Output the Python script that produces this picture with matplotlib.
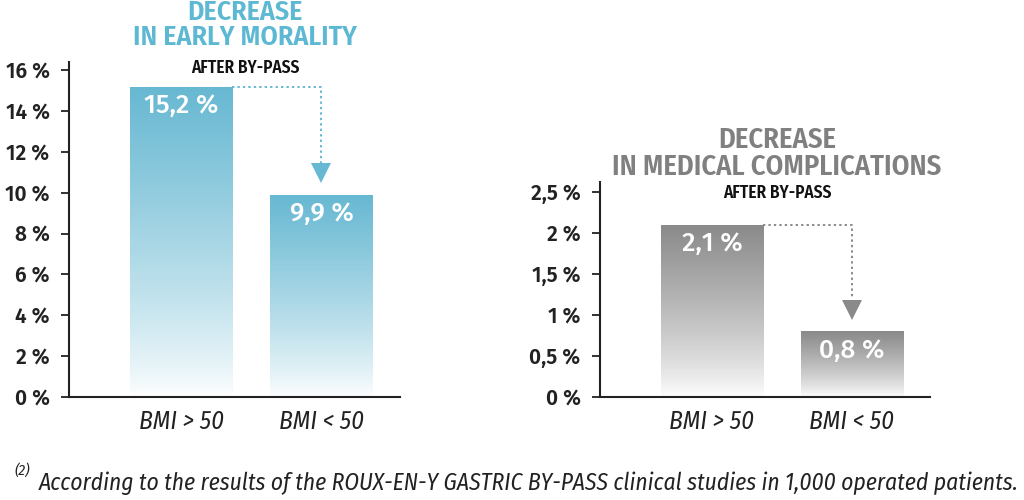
import matplotlib
matplotlib.use("Agg")
import matplotlib.pyplot as plt
import numpy as np
from matplotlib.colors import LinearSegmentedColormap

# data
categories = ["BMI > 50", "BMI < 50"]
mortality = [15.2, 9.9]
mortality_labels = ["15,2 %", "9,9 %"]
mortality_ticks = [0, 2, 4, 6, 8, 10, 12, 14, 16]
mortality_ticklabels = ["0 %", "2 %", "4 %", "6 %", "8 %", "10 %", "12 %", "14 %", "16 %"]
complications = [2.1, 0.8]
complications_labels = ["2,1 %", "0,8 %"]
complications_ticks = [0, 0.5, 1, 1.5, 2, 2.5]
complications_ticklabels = ["0 %", "0,5 %", "1 %", "1,5 %", "2 %", "2,5 %"]

narrow = ["Fira Sans Condensed", "Liberation Sans", "DejaVu Sans"]
plt.rcParams["font.family"] = ["Fira Sans", "Open Sans", "DejaVu Sans"]

BLUE = "#67b8d2"
GRAY = "#8a8a8a"
W = 0.73

fig = plt.figure(figsize=(10.24, 5), dpi=100)


def panel(rect, vals, labels, ticks, ticklabels, ymax, color):
    ax = fig.add_axes(rect)
    for s in ["top", "right"]:
        ax.spines[s].set_visible(False)
    for s in ["left", "bottom"]:
        ax.spines[s].set_linewidth(1.5)
        ax.spines[s].set_color("#222222")
    ax.set_yticks(ticks)
    ax.set_yticklabels(ticklabels, fontsize=15, fontweight="semibold", color="#222222")
    ax.tick_params(axis="y", length=6, width=1.3, color="#222222", pad=8)
    ax.set_xticks([0, 1])
    ax.set_xticklabels(categories, family=narrow, style="italic", fontsize=18, color="#222222")
    ax.tick_params(axis="x", length=0, pad=9)

    cmap = LinearSegmentedColormap.from_list("g", ["white", color])
    grad = np.linspace(0, 1, 256).reshape(-1, 1) ** 0.8
    bars = ax.bar([0, 1], vals, width=W, color="none", edgecolor="none")
    for b in bars:
        x0, y1 = b.get_x(), b.get_height()
        im = ax.imshow(grad, cmap=cmap, aspect="auto", origin="lower",
                       extent=(x0, x0 + W, 0, y1), zorder=1)
        im.set_clip_path(b)
    ax.set_xlim(-0.8, 1.56)
    ax.set_ylim(0, ymax)

    # value labels inside bars
    ppu = ax.transData.transform((0, 1))[1] - ax.transData.transform((0, 0))[1]
    for i, (v, t) in enumerate(zip(vals, labels)):
        ax.text(i, v - 19 / ppu, t, ha="center", va="center", color="white",
                fontsize=19, fontweight="medium", zorder=3)

    # dotted arrow from bar 1 to bar 2
    tip = vals[1] + 11 / ppu
    head = 21 / ppu
    ax.plot([W / 2, 1, 1], [vals[0], vals[0], tip + head], color=color,
            linestyle=(0, (1.2, 1.6)), lw=1.4, zorder=2, clip_on=False)
    ax.plot(1, tip + head / 2, marker="v", markersize=15, color=color,
            markeredgewidth=0, zorder=2)
    return ax


ax1 = panel([69 / 1024, 103 / 500, 331 / 1024, 335 / 500], mortality, mortality_labels,
            mortality_ticks, mortality_ticklabels, 16.4, BLUE)
ax2 = panel([600 / 1024, 103 / 500, 330 / 1024, 215 / 500], complications, complications_labels,
            complications_ticks, complications_ticklabels, 2.62, GRAY)

fig.text(245 / 1024, 1 - 25 / 500, "DECREASE\nIN EARLY MORALITY", ha="center", va="center",
         family=narrow, fontsize=20, fontweight="semibold", color="#5db8d3", linespacing=0.92)
fig.text(245 / 1024, 1 - 68 / 500, "AFTER BY-PASS", ha="center", va="center",
         family=narrow, fontsize=12.4, fontweight="semibold", color="#111111")
fig.text(777 / 1024, 1 - 153 / 500, "DECREASE\nIN MEDICAL COMPLICATIONS", ha="center", va="center",
         family=narrow, fontsize=20.5, fontweight="semibold", color="#808080", linespacing=0.92)
fig.text(777 / 1024, 1 - 193 / 500, "AFTER BY-PASS", ha="center", va="center",
         family=narrow, fontsize=12.4, fontweight="semibold", color="#111111")

fig.text(14 / 1024, 1 - 470 / 500, "(2)", family=narrow, style="italic", fontsize=11,
         color="#222222", va="center")
fig.text(1018 / 1024, 1 - 490 / 500,
         "According to the results of the ROUX-EN-Y GASTRIC BY-PASS clinical studies in 1,000 operated patients.",
         family=narrow, style="italic", fontsize=16.9, color="#222222", ha="right", va="baseline")

fig.savefig("out.png", dpi=100)
